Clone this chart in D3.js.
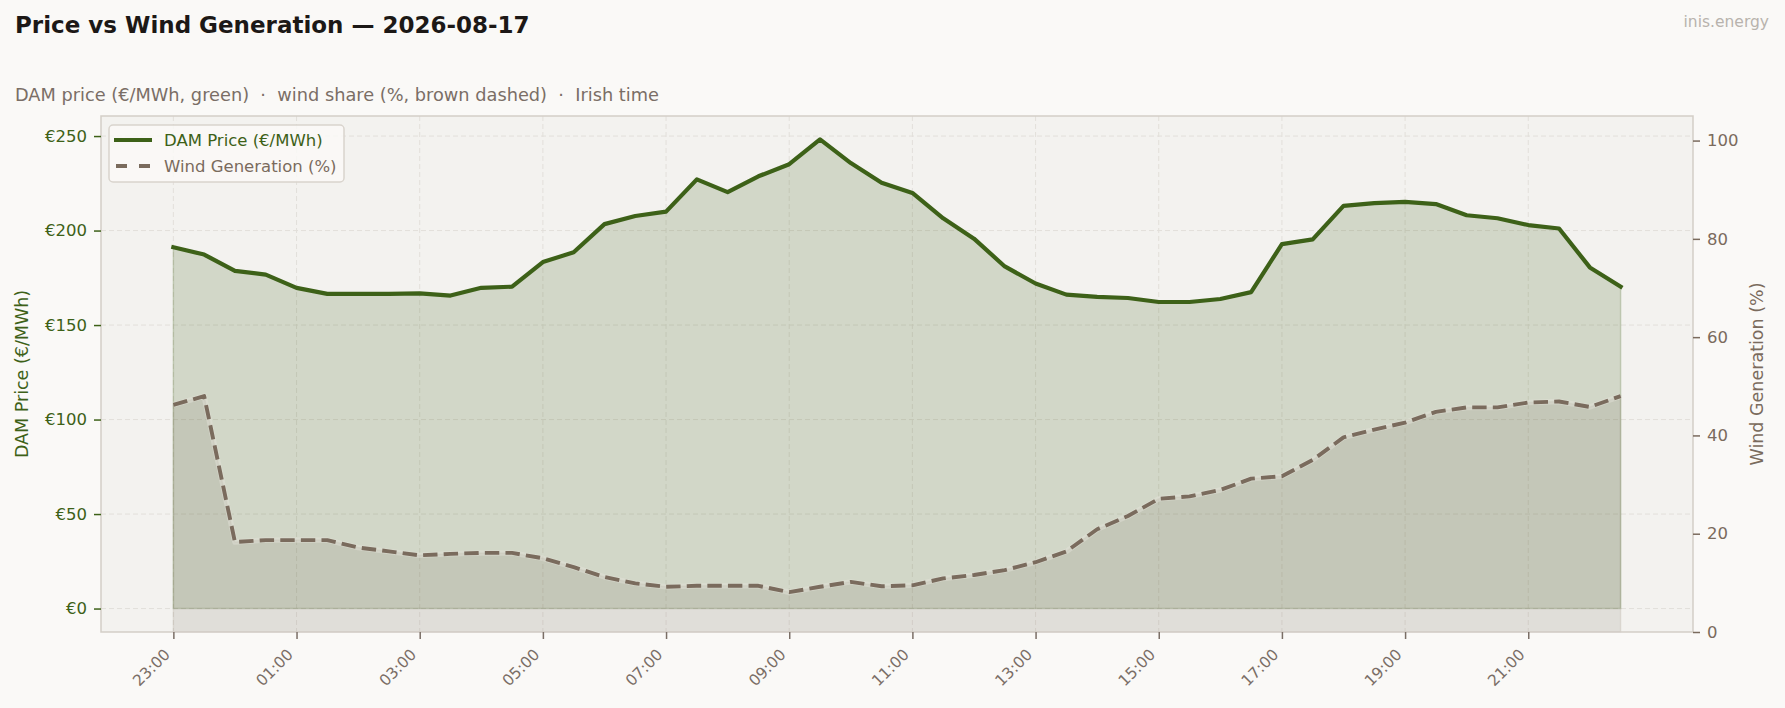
<!DOCTYPE html>
<html>
<head>
<meta charset="utf-8">
<script src="https://cdn.jsdelivr.net/npm/d3@7/dist/d3.min.js"></script>
<style>
  html, body { margin: 0; padding: 0; background: #faf9f7; }
  svg { display: block; font-family: "DejaVu Sans", sans-serif; }
</style>
</head>
<body>
<svg id="chart" width="1785" height="708"></svg>
<script>
// ---- data ----
const times = ["23:00","23:30","00:00","00:30","01:00","01:30","02:00","02:30","03:00","03:30",
  "04:00","04:30","05:00","05:30","06:00","06:30","07:00","07:30","08:00","08:30",
  "09:00","09:30","10:00","10:30","11:00","11:30","12:00","12:30","13:00","13:30",
  "14:00","14:30","15:00","15:30","16:00","16:30","17:00","17:30","18:00","18:30",
  "19:00","19:30","20:00","20:30","21:00","21:30","22:00","22:30"];
const price = [191.2,187.3,178.7,176.7,169.7,166.5,166.5,166.5,166.8,165.6,
  169.7,170.3,183.3,188.5,203.4,207.7,210.0,227.1,220.3,228.7,
  235.1,248.2,235.7,225.3,219.9,206.5,195.7,181.0,172.0,166.1,
  164.9,164.3,162.2,162.2,163.8,167.4,192.8,195.3,213.1,214.5,
  215.2,214.0,208.1,206.5,202.9,201.1,180.5,170.3];
const wind = [46.2,48.0,18.3,18.7,18.7,18.7,17.2,16.4,15.6,15.9,
  16.1,16.1,15.0,13.2,11.2,9.9,9.2,9.4,9.4,9.4,
  8.1,9.2,10.2,9.3,9.5,10.9,11.6,12.6,14.2,16.4,
  20.9,23.6,27.1,27.6,28.9,31.2,31.7,35.0,39.6,41.2,
  42.6,44.8,45.7,45.7,46.7,46.9,45.8,48.0];
const xTickLabels = ["23:00","01:00","03:00","05:00","07:00","09:00","11:00","13:00","15:00","17:00","19:00","21:00"];
const priceTicks = [0,50,100,150,200,250];
const windTicks = [0,20,40,60,80,100];

const title = "Price vs Wind Generation \u2014 2026-08-17";
const subtitle = "DAM price (\u20ac/MWh, green)  \u00b7  wind share (%, brown dashed)  \u00b7  Irish time";

// ---- style ----
const C = {
  bg: "#faf9f7", plotBg: "#f3f2ef", frame: "#d3cec7", grid: "#e2dfda",
  price: "#3d6118", wind: "#7a6b5d", xtick: "#7a6e66", title: "#1c1816", sub: "#7a6e66", brand: "#b8b3ad"
};
const L = 101, R = 1693, T = 116, B = 632;

const svg = d3.select("#chart");
svg.append("rect").attr("width",1785).attr("height",708).attr("fill",C.bg);

const n = times.length;
const pad = (n - 1) * 0.05;
const x = d3.scaleLinear().domain([-pad, n - 1 + pad]).range([L, R]);
const pMax = d3.max(price);
const yP = d3.scaleLinear().domain([-0.05 * pMax, pMax * 1.05]).range([B, T]);
const yW = d3.scaleLinear().domain([0, 105]).range([B, T]);

// plot background
svg.append("rect").attr("x",L).attr("y",T).attr("width",R-L).attr("height",B-T).attr("fill",C.plotBg);

// grid
const grid = svg.append("g").attr("stroke",C.grid).attr("stroke-width",1).attr("stroke-dasharray","5,3");
xTickLabels.forEach(lbl => {
  const i = times.indexOf(lbl);
  grid.append("line").attr("x1",x(i)).attr("x2",x(i)).attr("y1",T).attr("y2",B);
});
priceTicks.forEach(v => {
  grid.append("line").attr("x1",L).attr("x2",R).attr("y1",yP(v)).attr("y2",yP(v));
});

const idx = d3.range(n);
// price fill
const areaP = d3.area().x(i => x(i)).y0(yP(0)).y1(i => yP(price[i]));
svg.append("path").datum(idx).attr("d",areaP)
  .attr("fill",C.price).attr("fill-opacity",0.18)
  .attr("stroke",C.price).attr("stroke-opacity",0.2).attr("stroke-width",1.5);
// price line
const lineP = d3.line().x(i => x(i)).y(i => yP(price[i]));
svg.append("path").datum(idx).attr("d",lineP)
  .attr("fill","none").attr("stroke",C.price).attr("stroke-width",4.2)
  .attr("stroke-linejoin","round").attr("stroke-linecap","square");

// wind fill
const areaW = d3.area().x(i => x(i)).y0(yW(0)).y1(i => yW(wind[i]));
svg.append("path").datum(idx).attr("d",areaW)
  .attr("fill",C.wind).attr("fill-opacity",0.15)
  .attr("stroke",C.wind).attr("stroke-opacity",0.12).attr("stroke-width",1.5);
// wind line
const lineW = d3.line().x(i => x(i)).y(i => yW(wind[i]));
svg.append("path").datum(idx).attr("d",lineW)
  .attr("fill","none").attr("stroke","#e4e3da").attr("stroke-opacity",0.45).attr("stroke-width",5.5)
  .attr("stroke-linejoin","round");
svg.append("path").datum(idx).attr("d",lineW)
  .attr("fill","none").attr("stroke",C.wind).attr("stroke-width",3.9)
  .attr("stroke-dasharray","14.4,6.2").attr("stroke-linejoin","round");

// frame
svg.append("rect").attr("x",L).attr("y",T).attr("width",R-L).attr("height",B-T)
  .attr("fill","none").attr("stroke",C.frame).attr("stroke-width",1.5);

// axes
const fs = 16.5;
const axL = svg.append("g").attr("transform",`translate(${L},0)`)
  .call(d3.axisLeft(yP).tickValues(priceTicks).tickSize(7).tickPadding(7).tickFormat(d => "\u20ac" + d));
axL.select(".domain").remove();
axL.selectAll("line").attr("stroke",C.price).attr("stroke-width",1.5);
axL.selectAll("text").attr("fill",C.price).style("font-size",fs+"px").style("font-family","DejaVu Sans");

const axR = svg.append("g").attr("transform",`translate(${R},0)`)
  .call(d3.axisRight(yW).tickValues(windTicks).tickSize(7).tickPadding(7));
axR.select(".domain").remove();
axR.selectAll("line").attr("stroke",C.wind).attr("stroke-width",1.5);
axR.selectAll("text").attr("fill",C.wind).style("font-size",fs+"px").style("font-family","DejaVu Sans");

const xTickIdx = xTickLabels.map(l => times.indexOf(l));
const axB = svg.append("g").attr("transform",`translate(0,${B})`)
  .call(d3.axisBottom(x).tickValues(xTickIdx).tickSize(7).tickFormat(""));
axB.select(".domain").remove();
axB.selectAll("line").attr("stroke",C.xtick).attr("stroke-width",1.5);
const xl = svg.append("g");
xTickIdx.forEach(i => {
  xl.append("text")
    .attr("transform",`translate(${x(i) - 6},${652}) rotate(-45)`)
    .attr("text-anchor","end").attr("dominant-baseline","central")
    .attr("fill",C.xtick).style("font-size","15.5px")
    .text(times[i]);
});

// axis labels
svg.append("text").attr("transform",`translate(22,${(T+B)/2}) rotate(-90)`)
  .attr("text-anchor","middle").attr("dominant-baseline","central")
  .attr("fill",C.price).style("font-size","17.5px").text("DAM Price (\u20ac/MWh)");
svg.append("text").attr("transform",`translate(1757,${(T+B)/2}) rotate(-90)`)
  .attr("text-anchor","middle").attr("dominant-baseline","central")
  .attr("fill",C.wind).style("font-size","17.5px").text("Wind Generation (%)");

// titles
svg.append("text").attr("x",15).attr("y",33).attr("fill",C.title)
  .style("font-size","23px").style("font-weight","bold").text(title);
svg.append("text").attr("x",15).attr("y",101).attr("fill",C.sub)
  .style("font-size","17.75px").text(subtitle.replace(/  /g, "\u00a0 "));
svg.append("text").attr("x",1769).attr("y",27).attr("text-anchor","end").attr("fill",C.brand)
  .style("font-size","15.5px").text("inis.energy");

// legend
const lg = svg.append("g");
lg.append("rect").attr("x",109).attr("y",125).attr("width",235).attr("height",57).attr("rx",4)
  .attr("fill","#faf9f7").attr("fill-opacity",0.85).attr("stroke","#d9d4cd").attr("stroke-width",1.5);
lg.append("line").attr("x1",114).attr("x2",152).attr("y1",140).attr("y2",140)
  .attr("stroke",C.price).attr("stroke-width",4.2);
lg.append("line").attr("x1",116).attr("x2",150).attr("y1",166).attr("y2",166)
  .attr("stroke",C.wind).attr("stroke-width",3.9).attr("stroke-dasharray","11,12");
lg.append("text").attr("x",164).attr("y",146).attr("fill",C.price).style("font-size",fs+"px").text("DAM Price (\u20ac/MWh)");
lg.append("text").attr("x",164).attr("y",172).attr("fill",C.wind).style("font-size",fs+"px").text("Wind Generation (%)");
</script>
</body>
</html>
